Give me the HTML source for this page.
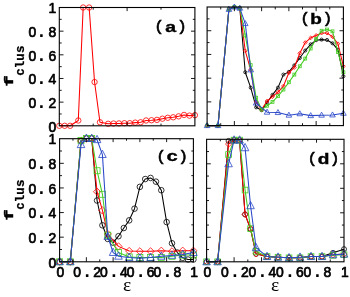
<!DOCTYPE html>
<html lang="en"><head><meta charset="utf-8"><title>f_clus vs epsilon</title>
<style>html,body{margin:0;padding:0;background:#fff;overflow:hidden}body{width:350px;height:297px}svg{will-change:transform}svg text{white-space:pre}.tk{font-family:'Liberation Sans',sans-serif;font-weight:normal;font-size:13.9px;stroke:#000;stroke-width:0.7px;stroke-linejoin:round}.pt{font-family:'Liberation Mono',monospace;font-weight:bold;font-size:18px;stroke:none}</style>
</head><body>
<svg width="350" height="297" viewBox="0 0 350 297" style="display:block;font-family:'Liberation Mono',monospace;font-weight:bold;font-size:14.8px" fill="#000">
<g stroke="#ff0000" fill="none">
<polyline points="59.30,125.80 64.72,125.80 70.15,125.80 78.28,120.48 83.17,7.50 89.13,7.50 94.56,82.03 99.98,122.25 108.12,123.79 113.54,123.55 118.96,123.43 124.39,123.20 129.81,123.20 135.24,122.61 140.66,122.25 146.08,120.48 151.51,120.24 156.93,119.88 162.36,118.70 167.78,117.76 173.20,117.28 178.63,116.34 184.05,114.92 189.48,115.63 194.90,115.15" stroke-width="1.05" stroke-linejoin="round"/>
<g stroke-width="0.8"><circle cx="59.30" cy="125.80" r="2.7" /><circle cx="64.72" cy="125.80" r="2.7" /><circle cx="70.15" cy="125.80" r="2.7" /><circle cx="78.28" cy="120.48" r="2.7" /><circle cx="83.17" cy="7.50" r="2.7" /><circle cx="89.13" cy="7.50" r="2.7" /><circle cx="94.56" cy="82.03" r="2.7" /><circle cx="99.98" cy="122.25" r="2.7" /><circle cx="108.12" cy="123.79" r="2.7" /><circle cx="113.54" cy="123.55" r="2.7" /><circle cx="118.96" cy="123.43" r="2.7" /><circle cx="124.39" cy="123.20" r="2.7" /><circle cx="129.81" cy="123.20" r="2.7" /><circle cx="135.24" cy="122.61" r="2.7" /><circle cx="140.66" cy="122.25" r="2.7" /><circle cx="146.08" cy="120.48" r="2.7" /><circle cx="151.51" cy="120.24" r="2.7" /><circle cx="156.93" cy="119.88" r="2.7" /><circle cx="162.36" cy="118.70" r="2.7" /><circle cx="167.78" cy="117.76" r="2.7" /><circle cx="173.20" cy="117.28" r="2.7" /><circle cx="178.63" cy="116.34" r="2.7" /><circle cx="184.05" cy="114.92" r="2.7" /><circle cx="189.48" cy="115.63" r="2.7" /><circle cx="194.90" cy="115.15" r="2.7" /></g>
</g>
<g stroke="#000000" fill="none">
<polyline points="207.10,125.60 218.00,125.60 228.91,8.78 234.36,7.00 239.81,8.19 245.26,72.23 250.72,87.65 256.17,107.34 261.62,110.18 267.07,102.47 272.52,94.88 277.98,87.65 283.43,74.60 288.88,71.87 294.33,65.35 299.78,58.00 305.24,50.53 310.69,44.36 316.14,40.21 321.59,39.61 327.04,39.97 332.50,43.29 337.95,49.70 343.40,76.26" stroke-width="1.05" stroke-linejoin="round"/>
<g stroke-width="0.8"><circle cx="207.10" cy="125.60" r="1.55" /><circle cx="218.00" cy="125.60" r="1.55" /><circle cx="228.91" cy="8.78" r="1.55" /><circle cx="234.36" cy="7.00" r="1.55" /><circle cx="239.81" cy="8.19" r="1.55" /><circle cx="245.26" cy="72.23" r="1.55" /><circle cx="250.72" cy="87.65" r="1.55" /><circle cx="256.17" cy="107.34" r="1.55" /><circle cx="261.62" cy="110.18" r="1.55" /><circle cx="267.07" cy="102.47" r="1.55" /><circle cx="272.52" cy="94.88" r="1.55" /><circle cx="277.98" cy="87.65" r="1.55" /><circle cx="283.43" cy="74.60" r="1.55" /><circle cx="288.88" cy="71.87" r="1.55" /><circle cx="294.33" cy="65.35" r="1.55" /><circle cx="299.78" cy="58.00" r="1.55" /><circle cx="305.24" cy="50.53" r="1.55" /><circle cx="310.69" cy="44.36" r="1.55" /><circle cx="316.14" cy="40.21" r="1.55" /><circle cx="321.59" cy="39.61" r="1.55" /><circle cx="327.04" cy="39.97" r="1.55" /><circle cx="332.50" cy="43.29" r="1.55" /><circle cx="337.95" cy="49.70" r="1.55" /><circle cx="343.40" cy="76.26" r="1.55" /></g>
</g>
<g stroke="#ff0000" fill="none">
<polyline points="207.10,125.60 218.00,125.60 228.91,9.37 234.36,7.00 239.81,8.19 245.26,50.88 250.72,69.86 256.17,101.88 261.62,109.59 267.07,101.05 272.52,96.66 277.98,92.15 283.43,86.11 288.88,72.82 294.33,67.49 299.78,53.25 305.24,42.58 310.69,37.84 316.14,35.46 321.59,33.09 327.04,33.09 332.50,36.65 337.95,43.77 343.40,66.30" stroke-width="1.05" stroke-linejoin="round"/>
<g stroke-width="0.8"><path d="M205.20 125.60L207.10 123.70L209.00 125.60L207.10 127.50Z"/><path d="M216.10 125.60L218.00 123.70L219.90 125.60L218.00 127.50Z"/><path d="M227.01 9.37L228.91 7.47L230.81 9.37L228.91 11.27Z"/><path d="M232.46 7.00L234.36 5.10L236.26 7.00L234.36 8.90Z"/><path d="M237.91 8.19L239.81 6.29L241.71 8.19L239.81 10.09Z"/><path d="M243.36 50.88L245.26 48.98L247.16 50.88L245.26 52.78Z"/><path d="M248.82 69.86L250.72 67.96L252.62 69.86L250.72 71.76Z"/><path d="M254.27 101.88L256.17 99.98L258.07 101.88L256.17 103.78Z"/><path d="M259.72 109.59L261.62 107.69L263.52 109.59L261.62 111.49Z"/><path d="M265.17 101.05L267.07 99.15L268.97 101.05L267.07 102.95Z"/><path d="M270.62 96.66L272.52 94.76L274.42 96.66L272.52 98.56Z"/><path d="M276.08 92.15L277.98 90.25L279.88 92.15L277.98 94.05Z"/><path d="M281.53 86.11L283.43 84.21L285.33 86.11L283.43 88.01Z"/><path d="M286.98 72.82L288.88 70.92L290.78 72.82L288.88 74.72Z"/><path d="M292.43 67.49L294.33 65.59L296.23 67.49L294.33 69.39Z"/><path d="M297.88 53.25L299.78 51.35L301.68 53.25L299.78 55.15Z"/><path d="M303.34 42.58L305.24 40.68L307.14 42.58L305.24 44.48Z"/><path d="M308.79 37.84L310.69 35.94L312.59 37.84L310.69 39.74Z"/><path d="M314.24 35.46L316.14 33.56L318.04 35.46L316.14 37.36Z"/><path d="M319.69 33.09L321.59 31.19L323.49 33.09L321.59 34.99Z"/><path d="M325.14 33.09L327.04 31.19L328.94 33.09L327.04 34.99Z"/><path d="M330.60 36.65L332.50 34.75L334.40 36.65L332.50 38.55Z"/><path d="M336.05 43.77L337.95 41.87L339.85 43.77L337.95 45.67Z"/><path d="M341.50 66.30L343.40 64.40L345.30 66.30L343.40 68.20Z"/></g>
</g>
<g stroke="#44cc22" fill="none">
<polyline points="207.10,125.60 218.00,125.60 228.91,9.37 234.36,7.00 239.81,8.19 245.26,35.46 250.72,65.11 256.17,97.73 261.62,109.59 267.07,105.79 272.52,101.88 277.98,96.19 283.43,89.55 288.88,82.31 294.33,74.60 299.78,66.30 305.24,58.59 310.69,48.51 316.14,39.02 321.59,30.72 327.04,29.53 332.50,31.31 337.95,52.07 343.40,72.23" stroke-width="1.05" stroke-linejoin="round"/>
<g stroke-width="0.8"><rect x="205.65" y="124.15" width="2.9" height="2.9"/><rect x="216.55" y="124.15" width="2.9" height="2.9"/><rect x="227.46" y="7.92" width="2.9" height="2.9"/><rect x="232.91" y="5.55" width="2.9" height="2.9"/><rect x="238.36" y="6.74" width="2.9" height="2.9"/><rect x="243.81" y="34.01" width="2.9" height="2.9"/><rect x="249.27" y="63.66" width="2.9" height="2.9"/><rect x="254.72" y="96.28" width="2.9" height="2.9"/><rect x="260.17" y="108.14" width="2.9" height="2.9"/><rect x="265.62" y="104.34" width="2.9" height="2.9"/><rect x="271.07" y="100.43" width="2.9" height="2.9"/><rect x="276.53" y="94.74" width="2.9" height="2.9"/><rect x="281.98" y="88.10" width="2.9" height="2.9"/><rect x="287.43" y="80.86" width="2.9" height="2.9"/><rect x="292.88" y="73.15" width="2.9" height="2.9"/><rect x="298.33" y="64.85" width="2.9" height="2.9"/><rect x="303.79" y="57.14" width="2.9" height="2.9"/><rect x="309.24" y="47.06" width="2.9" height="2.9"/><rect x="314.69" y="37.57" width="2.9" height="2.9"/><rect x="320.14" y="29.27" width="2.9" height="2.9"/><rect x="325.59" y="28.08" width="2.9" height="2.9"/><rect x="331.05" y="29.86" width="2.9" height="2.9"/><rect x="336.50" y="50.62" width="2.9" height="2.9"/><rect x="341.95" y="70.78" width="2.9" height="2.9"/></g>
</g>
<g stroke="#2a48c8" fill="none">
<polyline points="207.10,125.60 218.00,125.60 228.91,9.37 234.36,7.00 239.81,8.19 245.26,23.60 250.72,69.86 256.17,103.07 267.07,112.20 277.98,112.55 288.88,115.16 299.78,113.74 310.69,115.64 321.59,115.16 332.50,114.93 343.40,113.27" stroke-width="1.05" stroke-linejoin="round"/>
<g stroke-width="0.8"><path d="M204.30 127.60L207.10 122.60L209.90 127.60Z"/><path d="M215.20 127.60L218.00 122.60L220.80 127.60Z"/><path d="M226.11 11.37L228.91 6.37L231.71 11.37Z"/><path d="M231.56 9.00L234.36 4.00L237.16 9.00Z"/><path d="M237.01 10.19L239.81 5.19L242.61 10.19Z"/><path d="M242.46 25.60L245.26 20.60L248.06 25.60Z"/><path d="M247.92 71.86L250.72 66.86L253.52 71.86Z"/><path d="M253.37 105.07L256.17 100.07L258.97 105.07Z"/><path d="M264.27 114.20L267.07 109.20L269.87 114.20Z"/><path d="M275.18 114.55L277.98 109.55L280.78 114.55Z"/><path d="M286.08 117.16L288.88 112.16L291.68 117.16Z"/><path d="M296.98 115.74L299.78 110.74L302.58 115.74Z"/><path d="M307.89 117.64L310.69 112.64L313.49 117.64Z"/><path d="M318.79 117.16L321.59 112.16L324.39 117.16Z"/><path d="M329.70 116.93L332.50 111.93L335.30 116.93Z"/><path d="M340.60 115.27L343.40 110.27L346.20 115.27Z"/></g>
</g>
<g stroke="#000000" fill="none">
<polyline points="59.60,261.80 70.30,261.80 81.01,140.98 86.36,138.50 91.71,138.50 97.06,200.50 102.42,225.30 107.77,238.94 113.12,242.66 118.47,236.21 123.82,228.03 129.18,220.34 134.53,208.68 139.88,186.86 145.23,179.05 150.58,177.93 155.94,181.65 161.29,190.21 166.64,222.08 171.99,243.28 177.34,252.58 182.70,257.79 188.05,259.52 193.40,259.52" stroke-width="1.05" stroke-linejoin="round"/>
<g stroke-width="0.8"><circle cx="59.60" cy="261.80" r="2.8" /><circle cx="70.30" cy="261.80" r="2.8" /><circle cx="81.01" cy="140.98" r="2.8" /><circle cx="86.36" cy="138.50" r="2.8" /><circle cx="91.71" cy="138.50" r="2.8" /><circle cx="97.06" cy="200.50" r="2.8" /><circle cx="102.42" cy="225.30" r="2.8" /><circle cx="107.77" cy="238.94" r="2.8" /><circle cx="113.12" cy="242.66" r="2.8" /><circle cx="118.47" cy="236.21" r="2.8" /><circle cx="123.82" cy="228.03" r="2.8" /><circle cx="129.18" cy="220.34" r="2.8" /><circle cx="134.53" cy="208.68" r="2.8" /><circle cx="139.88" cy="186.86" r="2.8" /><circle cx="145.23" cy="179.05" r="2.8" /><circle cx="150.58" cy="177.93" r="2.8" /><circle cx="155.94" cy="181.65" r="2.8" /><circle cx="161.29" cy="190.21" r="2.8" /><circle cx="166.64" cy="222.08" r="2.8" /><circle cx="171.99" cy="243.28" r="2.8" /><circle cx="177.34" cy="252.58" r="2.8" /><circle cx="182.70" cy="257.79" r="2.8" /><circle cx="188.05" cy="259.52" r="2.8" /><circle cx="193.40" cy="259.52" r="2.8" /></g>
</g>
<g stroke="#ff0000" fill="none">
<polyline points="59.60,261.80 70.30,261.80 81.01,140.98 86.36,138.50 91.71,138.50 97.06,191.70 102.42,210.42 107.77,233.98 118.47,246.38 129.18,250.97 139.88,251.34 150.58,251.34 161.29,250.72 171.99,251.34 182.70,250.72 193.40,250.72" stroke-width="1.05" stroke-linejoin="round"/>
<g stroke-width="0.8"><path d="M56.00 261.80L59.60 258.20L63.20 261.80L59.60 265.40Z"/><path d="M66.70 261.80L70.30 258.20L73.90 261.80L70.30 265.40Z"/><path d="M77.41 140.98L81.01 137.38L84.61 140.98L81.01 144.58Z"/><path d="M82.76 138.50L86.36 134.90L89.96 138.50L86.36 142.10Z"/><path d="M88.11 138.50L91.71 134.90L95.31 138.50L91.71 142.10Z"/><path d="M93.46 191.70L97.06 188.10L100.66 191.70L97.06 195.30Z"/><path d="M98.82 210.42L102.42 206.82L106.02 210.42L102.42 214.02Z"/><path d="M104.17 233.98L107.77 230.38L111.37 233.98L107.77 237.58Z"/><path d="M114.87 246.38L118.47 242.78L122.07 246.38L118.47 249.98Z"/><path d="M125.58 250.97L129.18 247.37L132.78 250.97L129.18 254.57Z"/><path d="M136.28 251.34L139.88 247.74L143.48 251.34L139.88 254.94Z"/><path d="M146.98 251.34L150.58 247.74L154.18 251.34L150.58 254.94Z"/><path d="M157.69 250.72L161.29 247.12L164.89 250.72L161.29 254.32Z"/><path d="M168.39 251.34L171.99 247.74L175.59 251.34L171.99 254.94Z"/><path d="M179.10 250.72L182.70 247.12L186.30 250.72L182.70 254.32Z"/><path d="M189.80 250.72L193.40 247.12L197.00 250.72L193.40 254.32Z"/></g>
</g>
<g stroke="#44cc22" fill="none">
<polyline points="59.60,261.80 70.30,261.80 81.01,140.36 86.36,138.50 91.71,138.50 97.06,170.74 102.42,194.30 107.77,235.22 118.47,252.58 129.18,256.92 139.88,257.54 150.58,257.54 161.29,257.54 171.99,256.30 182.70,255.06 193.40,255.06" stroke-width="1.05" stroke-linejoin="round"/>
<g stroke-width="0.8"><rect x="56.60" y="258.80" width="6.0" height="6.0"/><rect x="67.30" y="258.80" width="6.0" height="6.0"/><rect x="78.01" y="137.36" width="6.0" height="6.0"/><rect x="83.36" y="135.50" width="6.0" height="6.0"/><rect x="88.71" y="135.50" width="6.0" height="6.0"/><rect x="94.06" y="167.74" width="6.0" height="6.0"/><rect x="99.42" y="191.30" width="6.0" height="6.0"/><rect x="104.77" y="232.22" width="6.0" height="6.0"/><rect x="115.47" y="249.58" width="6.0" height="6.0"/><rect x="126.18" y="253.92" width="6.0" height="6.0"/><rect x="136.88" y="254.54" width="6.0" height="6.0"/><rect x="147.58" y="254.54" width="6.0" height="6.0"/><rect x="158.29" y="254.54" width="6.0" height="6.0"/><rect x="168.99" y="253.30" width="6.0" height="6.0"/><rect x="179.70" y="252.06" width="6.0" height="6.0"/><rect x="190.40" y="252.06" width="6.0" height="6.0"/></g>
</g>
<g stroke="#2a48c8" fill="none">
<polyline points="59.60,261.80 70.30,261.80 81.01,144.70 86.36,138.50 91.71,138.50 97.06,139.74 102.42,154.62 107.77,236.46 113.12,252.58 118.47,256.30 129.18,257.54 139.88,258.16 150.58,257.54 161.29,256.30 171.99,255.43 182.70,254.44 193.40,252.58" stroke-width="1.05" stroke-linejoin="round"/>
<g stroke-width="0.8"><path d="M55.80 264.70L59.60 257.40L63.40 264.70Z"/><path d="M66.50 264.70L70.30 257.40L74.10 264.70Z"/><path d="M77.21 147.60L81.01 140.30L84.81 147.60Z"/><path d="M82.56 141.40L86.36 134.10L90.16 141.40Z"/><path d="M87.91 141.40L91.71 134.10L95.51 141.40Z"/><path d="M93.26 142.64L97.06 135.34L100.86 142.64Z"/><path d="M98.62 157.52L102.42 150.22L106.22 157.52Z"/><path d="M103.97 239.36L107.77 232.06L111.57 239.36Z"/><path d="M109.32 255.48L113.12 248.18L116.92 255.48Z"/><path d="M114.67 259.20L118.47 251.90L122.27 259.20Z"/><path d="M125.38 260.44L129.18 253.14L132.98 260.44Z"/><path d="M136.08 261.06L139.88 253.76L143.68 261.06Z"/><path d="M146.78 260.44L150.58 253.14L154.38 260.44Z"/><path d="M157.49 259.20L161.29 251.90L165.09 259.20Z"/><path d="M168.19 258.33L171.99 251.03L175.79 258.33Z"/><path d="M178.90 257.34L182.70 250.04L186.50 257.34Z"/><path d="M189.60 255.48L193.40 248.18L197.20 255.48Z"/></g>
</g>
<g stroke="#000000" fill="none">
<polyline points="206.60,261.80 217.59,261.80 228.58,140.95 234.08,140.09 239.58,140.09 245.07,214.37 250.57,229.18 256.06,253.86 267.06,256.57 278.05,257.19 289.04,257.81 300.03,257.81 311.02,256.57 322.02,256.57 333.01,252.87 344.00,249.17" stroke-width="1.05" stroke-linejoin="round"/>
<g stroke-width="0.8"><circle cx="206.60" cy="261.80" r="2.5" /><circle cx="217.59" cy="261.80" r="2.5" /><circle cx="228.58" cy="140.95" r="2.5" /><circle cx="234.08" cy="140.09" r="2.5" /><circle cx="239.58" cy="140.09" r="2.5" /><circle cx="245.07" cy="214.37" r="2.5" /><circle cx="250.57" cy="229.18" r="2.5" /><circle cx="256.06" cy="253.86" r="2.5" /><circle cx="267.06" cy="256.57" r="2.5" /><circle cx="278.05" cy="257.19" r="2.5" /><circle cx="289.04" cy="257.81" r="2.5" /><circle cx="300.03" cy="257.81" r="2.5" /><circle cx="311.02" cy="256.57" r="2.5" /><circle cx="322.02" cy="256.57" r="2.5" /><circle cx="333.01" cy="252.87" r="2.5" /><circle cx="344.00" cy="249.17" r="2.5" /></g>
</g>
<g stroke="#ff0000" fill="none">
<polyline points="206.60,261.80 217.59,261.80 228.58,144.04 234.08,140.09 239.58,140.09 245.07,214.37 250.57,228.69 256.06,253.86 267.06,256.57 278.05,257.19 289.04,257.81 300.03,257.81 311.02,256.57 322.02,256.57 333.01,254.72 344.00,254.11" stroke-width="1.05" stroke-linejoin="round"/>
<g stroke-width="0.8"><path d="M203.50 261.80L206.60 258.70L209.70 261.80L206.60 264.90Z"/><path d="M214.49 261.80L217.59 258.70L220.69 261.80L217.59 264.90Z"/><path d="M225.48 144.04L228.58 140.94L231.68 144.04L228.58 147.14Z"/><path d="M230.98 140.09L234.08 136.99L237.18 140.09L234.08 143.19Z"/><path d="M236.48 140.09L239.58 136.99L242.68 140.09L239.58 143.19Z"/><path d="M241.97 214.37L245.07 211.27L248.17 214.37L245.07 217.47Z"/><path d="M247.47 228.69L250.57 225.59L253.67 228.69L250.57 231.79Z"/><path d="M252.96 253.86L256.06 250.76L259.16 253.86L256.06 256.96Z"/><path d="M263.96 256.57L267.06 253.47L270.16 256.57L267.06 259.67Z"/><path d="M274.95 257.19L278.05 254.09L281.15 257.19L278.05 260.29Z"/><path d="M285.94 257.81L289.04 254.71L292.14 257.81L289.04 260.91Z"/><path d="M296.93 257.81L300.03 254.71L303.13 257.81L300.03 260.91Z"/><path d="M307.92 256.57L311.02 253.47L314.12 256.57L311.02 259.67Z"/><path d="M318.92 256.57L322.02 253.47L325.12 256.57L322.02 259.67Z"/><path d="M329.91 254.72L333.01 251.62L336.11 254.72L333.01 257.82Z"/><path d="M340.90 254.11L344.00 251.01L347.10 254.11L344.00 257.21Z"/></g>
</g>
<g stroke="#44cc22" fill="none">
<polyline points="206.60,261.80 217.59,261.80 228.58,154.53 234.08,140.09 239.58,140.09 245.07,190.06 250.57,228.69 256.06,251.39 267.06,256.57 278.05,257.19 289.04,257.81 300.03,257.81 311.02,256.57 322.02,256.57 333.01,255.34 344.00,254.72" stroke-width="1.05" stroke-linejoin="round"/>
<g stroke-width="0.8"><rect x="203.75" y="258.95" width="5.7" height="5.7"/><rect x="214.74" y="258.95" width="5.7" height="5.7"/><rect x="225.73" y="151.68" width="5.7" height="5.7"/><rect x="231.23" y="137.24" width="5.7" height="5.7"/><rect x="236.73" y="137.24" width="5.7" height="5.7"/><rect x="242.22" y="187.21" width="5.7" height="5.7"/><rect x="247.72" y="225.84" width="5.7" height="5.7"/><rect x="253.21" y="248.54" width="5.7" height="5.7"/><rect x="264.21" y="253.72" width="5.7" height="5.7"/><rect x="275.20" y="254.34" width="5.7" height="5.7"/><rect x="286.19" y="254.96" width="5.7" height="5.7"/><rect x="297.18" y="254.96" width="5.7" height="5.7"/><rect x="308.17" y="253.72" width="5.7" height="5.7"/><rect x="319.17" y="253.72" width="5.7" height="5.7"/><rect x="330.16" y="252.49" width="5.7" height="5.7"/><rect x="341.15" y="251.87" width="5.7" height="5.7"/></g>
</g>
<g stroke="#2a48c8" fill="none">
<polyline points="206.60,261.80 217.59,261.80 228.58,163.78 234.08,140.09 239.58,140.09 245.07,147.74 250.57,205.73 256.06,247.69 267.06,256.57 278.05,257.19 289.04,257.81 300.03,257.19 311.02,256.57 322.02,256.57 333.01,254.72 344.00,254.11" stroke-width="1.05" stroke-linejoin="round"/>
<g stroke-width="0.8"><path d="M202.85 264.80L206.60 257.50L210.35 264.80Z"/><path d="M213.84 264.80L217.59 257.50L221.34 264.80Z"/><path d="M224.83 166.78L228.58 159.48L232.33 166.78Z"/><path d="M230.33 143.09L234.08 135.79L237.83 143.09Z"/><path d="M235.83 143.09L239.58 135.79L243.33 143.09Z"/><path d="M241.32 150.74L245.07 143.44L248.82 150.74Z"/><path d="M246.82 208.73L250.57 201.43L254.32 208.73Z"/><path d="M252.31 250.69L256.06 243.39L259.81 250.69Z"/><path d="M263.31 259.57L267.06 252.27L270.81 259.57Z"/><path d="M274.30 260.19L278.05 252.89L281.80 260.19Z"/><path d="M285.29 260.81L289.04 253.51L292.79 260.81Z"/><path d="M296.28 260.19L300.03 252.89L303.78 260.19Z"/><path d="M307.27 259.57L311.02 252.27L314.77 259.57Z"/><path d="M318.27 259.57L322.02 252.27L325.77 259.57Z"/><path d="M329.26 257.72L333.01 250.42L336.76 257.72Z"/><path d="M340.25 257.11L344.00 249.81L347.75 257.11Z"/></g>
</g>
<rect x="59.30" y="7.50" width="135.60" height="118.30" fill="none" stroke="#000" stroke-width="1.1"/>
<path d="M59.30 113.97h2.4M194.90 113.97h-2.1M59.30 102.14h4.2M194.90 102.14h-3.9M59.30 90.31h2.4M194.90 90.31h-2.1M59.30 78.48h4.2M194.90 78.48h-3.9M59.30 66.65h2.4M194.90 66.65h-2.1M59.30 54.82h4.2M194.90 54.82h-3.9M59.30 42.99h2.4M194.90 42.99h-2.1M59.30 31.16h4.2M194.90 31.16h-3.9M59.30 19.33h2.4M194.90 19.33h-2.1M93.20 125.80v-2.2M93.20 7.50v2.2M127.10 125.80v-3.6M127.10 7.50v3.6M161.00 125.80v-2.2M161.00 7.50v2.2" stroke="#000" stroke-width="0.9" fill="none"/>
<rect x="207.10" y="7.00" width="136.30" height="118.60" fill="none" stroke="#000" stroke-width="1.1"/>
<path d="M220.73 125.60v-2.4M220.73 7.00v2.4M207.10 113.74h2.4M343.40 113.74h-2.1M234.36 125.60v-4.6M234.36 7.00v4.2M207.10 101.88h4.2M343.40 101.88h-3.9M247.99 125.60v-2.4M247.99 7.00v2.4M207.10 90.02h2.4M343.40 90.02h-2.1M261.62 125.60v-4.6M261.62 7.00v4.2M207.10 78.16h4.2M343.40 78.16h-3.9M275.25 125.60v-2.4M275.25 7.00v2.4M207.10 66.30h2.4M343.40 66.30h-2.1M288.88 125.60v-4.6M288.88 7.00v4.2M207.10 54.44h4.2M343.40 54.44h-3.9M302.51 125.60v-2.4M302.51 7.00v2.4M207.10 42.58h2.4M343.40 42.58h-2.1M316.14 125.60v-4.6M316.14 7.00v4.2M207.10 30.72h4.2M343.40 30.72h-3.9M329.77 125.60v-2.4M329.77 7.00v2.4M207.10 18.86h2.4M343.40 18.86h-2.1" stroke="#000" stroke-width="0.9" fill="none"/>
<rect x="59.60" y="138.70" width="133.80" height="123.10" fill="none" stroke="#000" stroke-width="1.1"/>
<path d="M72.98 261.80v-2.4M72.98 138.70v2.0M59.60 249.49h2.4M193.40 249.49h-2.1M86.36 261.80v-4.6M86.36 138.70v3.4M59.60 237.18h4.2M193.40 237.18h-3.9M99.74 261.80v-2.4M99.74 138.70v2.0M59.60 224.87h2.4M193.40 224.87h-2.1M113.12 261.80v-4.6M113.12 138.70v3.4M59.60 212.56h4.2M193.40 212.56h-3.9M126.50 261.80v-2.4M126.50 138.70v2.0M59.60 200.25h2.4M193.40 200.25h-2.1M139.88 261.80v-4.6M139.88 138.70v3.4M59.60 187.94h4.2M193.40 187.94h-3.9M153.26 261.80v-2.4M153.26 138.70v2.0M59.60 175.63h2.4M193.40 175.63h-2.1M166.64 261.80v-4.6M166.64 138.70v3.4M59.60 163.32h4.2M193.40 163.32h-3.9M180.02 261.80v-2.4M180.02 138.70v2.0M59.60 151.01h2.4M193.40 151.01h-2.1" stroke="#000" stroke-width="0.9" fill="none"/>
<rect x="206.60" y="139.30" width="137.40" height="122.50" fill="none" stroke="#000" stroke-width="1.1"/>
<path d="M220.34 261.80v-2.4M220.34 139.30v2.0M206.60 249.55h2.4M344.00 249.55h-2.1M234.08 261.80v-4.6M234.08 139.30v3.4M206.60 237.30h4.2M344.00 237.30h-3.9M247.82 261.80v-2.4M247.82 139.30v2.0M206.60 225.05h2.4M344.00 225.05h-2.1M261.56 261.80v-4.6M261.56 139.30v3.4M206.60 212.80h4.2M344.00 212.80h-3.9M275.30 261.80v-2.4M275.30 139.30v2.0M206.60 200.55h2.4M344.00 200.55h-2.1M289.04 261.80v-4.6M289.04 139.30v3.4M206.60 188.30h4.2M344.00 188.30h-3.9M302.78 261.80v-2.4M302.78 139.30v2.0M206.60 176.05h2.4M344.00 176.05h-2.1M316.52 261.80v-4.6M316.52 139.30v3.4M206.60 163.80h4.2M344.00 163.80h-3.9M330.26 261.80v-2.4M330.26 139.30v2.0M206.60 151.55h2.4M344.00 151.55h-2.1" stroke="#000" stroke-width="0.9" fill="none"/>
<text class="tk" y="131.50" text-anchor="middle"><tspan x="52.30">0</tspan></text>
<text class="tk" y="107.84" text-anchor="middle"><tspan x="32.30">0</tspan><tspan x="41.40" class="pt">.</tspan><tspan x="52.30">2</tspan></text>
<text class="tk" y="84.18" text-anchor="middle"><tspan x="32.30">0</tspan><tspan x="41.40" class="pt">.</tspan><tspan x="52.30">4</tspan></text>
<text class="tk" y="60.52" text-anchor="middle"><tspan x="32.30">0</tspan><tspan x="41.40" class="pt">.</tspan><tspan x="52.30">6</tspan></text>
<text class="tk" y="36.86" text-anchor="middle"><tspan x="32.30">0</tspan><tspan x="41.40" class="pt">.</tspan><tspan x="52.30">8</tspan></text>
<text class="tk" y="13.20" text-anchor="middle"><tspan x="52.30">1</tspan></text>
<text class="tk" y="267.50" text-anchor="middle"><tspan x="52.30">0</tspan></text>
<text class="tk" y="242.88" text-anchor="middle"><tspan x="32.30">0</tspan><tspan x="41.40" class="pt">.</tspan><tspan x="52.30">2</tspan></text>
<text class="tk" y="218.26" text-anchor="middle"><tspan x="32.30">0</tspan><tspan x="41.40" class="pt">.</tspan><tspan x="52.30">4</tspan></text>
<text class="tk" y="193.64" text-anchor="middle"><tspan x="32.30">0</tspan><tspan x="41.40" class="pt">.</tspan><tspan x="52.30">6</tspan></text>
<text class="tk" y="169.02" text-anchor="middle"><tspan x="32.30">0</tspan><tspan x="41.40" class="pt">.</tspan><tspan x="52.30">8</tspan></text>
<text class="tk" y="144.40" text-anchor="middle"><tspan x="52.30">1</tspan></text>
<text class="tk" y="277.20" text-anchor="middle"><tspan x="60.40">0</tspan></text>
<text class="tk" y="277.20" text-anchor="middle"><tspan x="77.16">0</tspan><tspan x="87.16" class="pt">.</tspan><tspan x="97.16">2</tspan></text>
<text class="tk" y="277.20" text-anchor="middle"><tspan x="103.92">0</tspan><tspan x="113.92" class="pt">.</tspan><tspan x="123.92">4</tspan></text>
<text class="tk" y="277.20" text-anchor="middle"><tspan x="130.68">0</tspan><tspan x="140.68" class="pt">.</tspan><tspan x="150.68">6</tspan></text>
<text class="tk" y="277.20" text-anchor="middle"><tspan x="157.44">0</tspan><tspan x="167.44" class="pt">.</tspan><tspan x="177.44">8</tspan></text>
<text class="tk" y="277.20" text-anchor="middle"><tspan x="194.20">1</tspan></text>
<text class="tk" y="277.20" text-anchor="middle"><tspan x="207.40">0</tspan></text>
<text class="tk" y="277.20" text-anchor="middle"><tspan x="224.88">0</tspan><tspan x="234.88" class="pt">.</tspan><tspan x="244.88">2</tspan></text>
<text class="tk" y="277.20" text-anchor="middle"><tspan x="252.36">0</tspan><tspan x="262.36" class="pt">.</tspan><tspan x="272.36">4</tspan></text>
<text class="tk" y="277.20" text-anchor="middle"><tspan x="279.84">0</tspan><tspan x="289.84" class="pt">.</tspan><tspan x="299.84">6</tspan></text>
<text class="tk" y="277.20" text-anchor="middle"><tspan x="307.32">0</tspan><tspan x="317.32" class="pt">.</tspan><tspan x="327.32">8</tspan></text>
<text class="tk" y="277.20" text-anchor="middle"><tspan x="344.80">1</tspan></text>
<g text-anchor="middle" stroke="#000" stroke-width="0.3"><text transform="translate(159.10 30.70) scale(1.15 1.0)" style="font-size:14.2px;font-weight:normal;stroke-width:0.55px">(</text><text transform="translate(170.80 31.60) scale(1.32 1.0)" style="font-size:15.2px">a</text><text transform="translate(182.00 30.70) scale(1.15 1.0)" style="font-size:14.2px;font-weight:normal;stroke-width:0.55px">)</text></g>
<g text-anchor="middle" stroke="#000" stroke-width="0.3"><text transform="translate(305.20 23.40) scale(1.15 1.0)" style="font-size:14.2px;font-weight:normal;stroke-width:0.55px">(</text><text transform="translate(316.00 24.30) scale(1.32 1.0)" style="font-size:15.2px">b</text><text transform="translate(327.50 23.40) scale(1.15 1.0)" style="font-size:14.2px;font-weight:normal;stroke-width:0.55px">)</text></g>
<g text-anchor="middle" stroke="#000" stroke-width="0.3"><text transform="translate(161.20 160.50) scale(1.15 1.0)" style="font-size:14.2px;font-weight:normal;stroke-width:0.55px">(</text><text transform="translate(172.20 161.40) scale(1.32 1.0)" style="font-size:15.2px">c</text><text transform="translate(183.20 160.50) scale(1.15 1.0)" style="font-size:14.2px;font-weight:normal;stroke-width:0.55px">)</text></g>
<g text-anchor="middle" stroke="#000" stroke-width="0.3"><text transform="translate(312.30 163.40) scale(1.15 1.0)" style="font-size:14.2px;font-weight:normal;stroke-width:0.55px">(</text><text transform="translate(323.60 164.30) scale(1.32 1.0)" style="font-size:15.2px">d</text><text transform="translate(334.70 163.40) scale(1.15 1.0)" style="font-size:14.2px;font-weight:normal;stroke-width:0.55px">)</text></g>
<text x="127.0" y="291.2" text-anchor="middle" style="font-family:'Liberation Serif',serif;font-weight:normal;font-size:19.4px">ε</text>
<text x="275.0" y="291.2" text-anchor="middle" style="font-family:'Liberation Serif',serif;font-weight:normal;font-size:19.4px">ε</text>
<g text-anchor="middle"><text transform="translate(13.1 81.0) rotate(-90) scale(1.4 1)" stroke="#000" stroke-width="0.45" style="font-size:13.2px">f</text><text transform="translate(24.0 60.7) rotate(-90)" stroke="#000" stroke-width="0.25" style="font-size:12.4px;letter-spacing:0.15px">clus</text></g>
<g text-anchor="middle"><text transform="translate(13.1 215.0) rotate(-90) scale(1.4 1)" stroke="#000" stroke-width="0.45" style="font-size:13.2px">f</text><text transform="translate(24.0 194.7) rotate(-90)" stroke="#000" stroke-width="0.25" style="font-size:12.4px;letter-spacing:0.15px">clus</text></g>
</svg>
</body></html>
